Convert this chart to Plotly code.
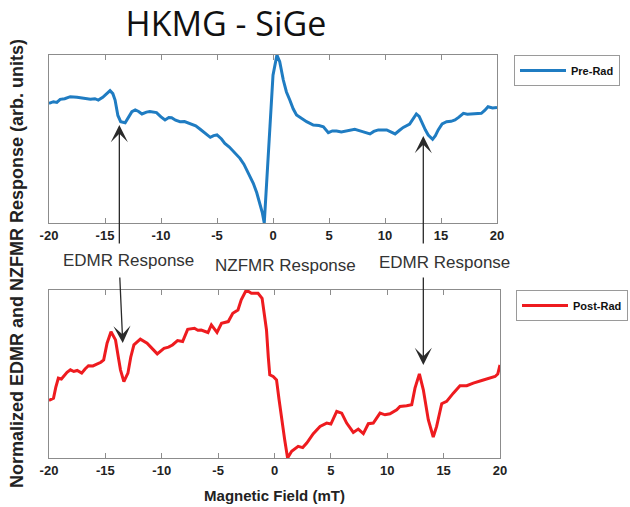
import plotly.graph_objects as go
from plotly.subplots import make_subplots

# Pre-irradiation sweep: magnetic field (mT) and normalized response
field_pre = [-20, -19.6, -19.3, -19.0, -18.6, -18.1, -17.5, -16.9, -16.3, -15.9, -15.6, -15.2,
             -14.8, -14.55, -14.3, -14.1, -13.85, -13.6, -13.2, -12.9, -12.6, -12.3, -12.0,
             -11.7, -11.3, -11.0, -10.4, -10.0, -9.64, -9.3, -9.05, -8.7, -8.3, -7.9, -7.4,
             -6.9, -6.5, -6.0, -5.6, -5.3, -5.0, -4.6, -4.3, -3.9, -3.54, -3.2, -2.95, -2.6,
             -2.35, -2.0, -1.76, -1.45, -1.16, -0.95, -0.78, -0.5, -0.27, 0.0, 0.35, 0.6,
             0.92, 1.2, 1.5, 1.8, 2.1, 2.5, 3.0, 3.6, 4.1, 4.5, 4.94, 5.3, 5.68, 6.1, 6.6,
             7.3, 7.7, 8.07, 8.66, 9.0, 9.4, 10.15, 10.5, 10.9, 11.3, 11.63, 12.2, 12.5,
             12.8, 13.05, 13.26, 13.6, 13.86, 14.25, 14.5, 14.75, 15.1, 15.5, 15.9, 16.25,
             16.6, 17.0, 17.35, 17.7, 18.2, 18.6, 18.9, 19.2, 19.6, 20.0]
resp_pre = [0.712, 0.722, 0.718, 0.736, 0.740, 0.752, 0.748, 0.742, 0.736, 0.740, 0.732, 0.748,
            0.772, 0.788, 0.770, 0.732, 0.640, 0.603, 0.597, 0.630, 0.663, 0.673, 0.664,
            0.649, 0.660, 0.663, 0.657, 0.632, 0.613, 0.628, 0.627, 0.612, 0.603, 0.604, 0.589,
            0.578, 0.558, 0.532, 0.510, 0.520, 0.524, 0.500, 0.474, 0.452, 0.425, 0.405, 0.385, 0.350,
            0.315, 0.275, 0.236, 0.180, 0.117, 0.060, 0.000, 0.330, 0.633, 0.880, 1.000, 0.960,
            0.851, 0.780, 0.732, 0.680, 0.643, 0.625, 0.603, 0.583, 0.580, 0.573, 0.538, 0.548, 0.548, 0.542, 0.548,
            0.558, 0.550, 0.544, 0.530, 0.545, 0.554, 0.554, 0.545, 0.530, 0.552, 0.569, 0.589, 0.620,
            0.649, 0.635, 0.603, 0.555, 0.524, 0.498, 0.520, 0.554, 0.590, 0.603, 0.605, 0.613,
            0.630, 0.653, 0.648, 0.649, 0.648, 0.653, 0.670, 0.692, 0.685, 0.688]

# Post-irradiation sweep
field_post = [-20, -19.6, -19.4, -19.17, -18.9, -18.7, -18.4, -18.1, -17.8, -17.5, -17.1, -16.8,
              -16.5, -16.1, -15.7, -15.4, -15.15, -14.85, -14.5, -14.1, -13.85, -13.66, -13.36,
              -13.0, -12.75, -12.47, -11.9, -11.3, -10.8, -10.4, -9.8, -9.4, -9.05, -8.6, -8.15,
              -7.7, -7.1, -6.8, -6.5, -5.9, -5.6, -5.1, -4.7, -4.1, -3.7, -3.24, -2.95, -2.5,
              -2.05, -1.46, -1.1, -0.9, -0.71, -0.55, -0.42, -0.12, 0.18, 0.4, 0.63, 0.9, 1.16,
              1.52, 2.1, 2.5, 2.86, 3.44, 4.04, 4.63, 5.0, 5.52, 5.96, 6.4, 6.99, 7.43, 7.88,
              8.32, 8.76, 9.36, 9.8, 10.24, 10.84, 11.13, 11.72, 12.17, 12.46, 12.85, 13.2,
              13.64, 14.08, 14.38, 14.83, 15.27, 15.86, 16.45, 17.05, 17.63, 18.38, 18.96,
              19.56, 19.8, 20.0]
resp_post = [0.343, 0.356, 0.420, 0.475, 0.470, 0.485, 0.510, 0.525, 0.515, 0.521, 0.505, 0.530,
             0.549, 0.548, 0.560, 0.570, 0.584, 0.683, 0.752, 0.703, 0.600, 0.525, 0.455,
             0.505, 0.600, 0.673, 0.707, 0.683, 0.648, 0.620, 0.653, 0.660, 0.673, 0.699, 0.693,
             0.766, 0.772, 0.760, 0.762, 0.747, 0.792, 0.747, 0.802, 0.812, 0.861, 0.881, 0.941, 1.000,
             0.980, 0.980, 0.950, 0.860, 0.762, 0.600, 0.495, 0.485, 0.465, 0.350, 0.228, 0.110, 0.000,
             0.040, 0.069, 0.062, 0.089, 0.145, 0.188, 0.208, 0.202, 0.277, 0.267, 0.208, 0.152, 0.172, 0.145,
             0.204, 0.208, 0.267, 0.257, 0.263, 0.287, 0.307, 0.311, 0.317, 0.416, 0.501, 0.406,
             0.228, 0.125, 0.188, 0.323, 0.337, 0.386, 0.430, 0.430, 0.446, 0.461, 0.475,
             0.485, 0.500, 0.554]

x_ticks = [-20, -15, -10, -5, 0, 5, 10, 15, 20]
x_tick_labels = ["-20", "-15", "-10", "-5", "0", "5", "10", "15", "20"]

# Resonance features marked with arrows: (field, response)
edmr_pre_marks = [(-13.72, 0.583), (13.42, 0.518)]
edmr_post_marks = [(-13.46, 0.685), (13.2, 0.554)]

W, H = 630, 507
BLUE = "#1f7cc2"
RED = "#ee1b1f"
FONT = "Liberation Sans"

fig = make_subplots(rows=2, cols=1)

fig.add_trace(go.Scatter(x=field_pre, y=resp_pre, mode="lines", name="Pre-Rad",
                         line=dict(color=BLUE, width=3), legend="legend"), row=1, col=1)
fig.add_trace(go.Scatter(x=field_post, y=resp_post, mode="lines", name="Post-Rad",
                         line=dict(color=RED, width=3), legend="legend2"), row=2, col=1)

axis_common = dict(showline=True, linecolor="#8c8c8c", linewidth=1, mirror="ticks",
                   showgrid=False, zeroline=False, automargin=False)
xcommon = dict(axis_common, range=[-20, 20], tickvals=x_ticks, ticktext=x_tick_labels,
               ticks="inside", ticklen=5, tickcolor="#8c8c8c",
               tickfont=dict(family=FONT, size=13, color="#222222", weight="bold"))
ycommon = dict(axis_common, range=[0, 1], ticks="", showticklabels=False)

fig.update_layout(
    xaxis=dict(xcommon, domain=[49 / W, 497 / W], anchor="y"),
    xaxis2=dict(xcommon, domain=[49 / W, 500 / W], anchor="y2",
                title=dict(text="Magnetic Field (mT)", standoff=13,
                           font=dict(family=FONT, size=15, color="#222222", weight="bold"))),
    yaxis=dict(ycommon, domain=[1 - 223 / H, 1 - 55 / H], anchor="x"),
    yaxis2=dict(ycommon, domain=[1 - 458 / H, 1 - 290 / H], anchor="x2"),
)

legend_style = dict(xanchor="left", yanchor="top", bgcolor="white",
                    bordercolor="#9a9a9a", borderwidth=1, itemwidth=46,
                    font=dict(family=FONT, size=11, color="#111111", weight="bold"))
fig.update_layout(
    legend=dict(legend_style, x=514 / W, y=1 - 55 / H),
    legend2=dict(legend_style, x=516 / W, y=1 - 290 / H),
)

annotations = []
# arrows from the labels to the EDMR features
for (fx, fy), tail in zip(edmr_pre_marks, [(0, 120), (0, 109)]):
    annotations.append(dict(x=fx, y=fy, xref="x", yref="y", text="", showarrow=True,
                            ax=tail[0], ay=tail[1], arrowhead=3, arrowsize=2.2,
                            arrowwidth=1.3, arrowcolor="#2a2a2a", standoff=0))
for (fx, fy), tail in zip(edmr_post_marks, [(-3, -67), (0, -89)]):
    annotations.append(dict(x=fx, y=fy, xref="x2", yref="y2", text="", showarrow=True,
                            ax=tail[0], ay=tail[1], arrowhead=3, arrowsize=2.2,
                            arrowwidth=1.3, arrowcolor="#2a2a2a", standoff=0))

label_font = dict(family=FONT, size=17, color="#333333")
for text, px, py in [("EDMR Response", 128, 260), ("NZFMR Response", 285, 265),
                     ("EDMR Response", 444, 262)]:
    annotations.append(dict(text=text, x=px / W, y=1 - py / H, xref="paper", yref="paper",
                            xanchor="center", yanchor="middle", showarrow=False,
                            font=label_font))

annotations.append(dict(text="Normalized EDMR and NZFMR Response (arb. units)",
                        x=17 / W, y=1 - 264 / H, xref="paper", yref="paper",
                        xanchor="center", yanchor="middle", textangle=-90, showarrow=False,
                        font=dict(family=FONT, size=18, color="#222222", weight="bold")))

fig.update_layout(
    annotations=annotations,
    title=dict(text="HKMG - SiGe", x=226 / W, y=1 - 24 / H, xanchor="center", yanchor="middle",
               font=dict(family="Open Sans", size=34, color="#111111")),
    width=W, height=H,
    margin=dict(l=0, r=0, t=0, b=0, autoexpand=False),
    paper_bgcolor="white", plot_bgcolor="white",
    showlegend=True,
)

fig.write_html("out.html")
